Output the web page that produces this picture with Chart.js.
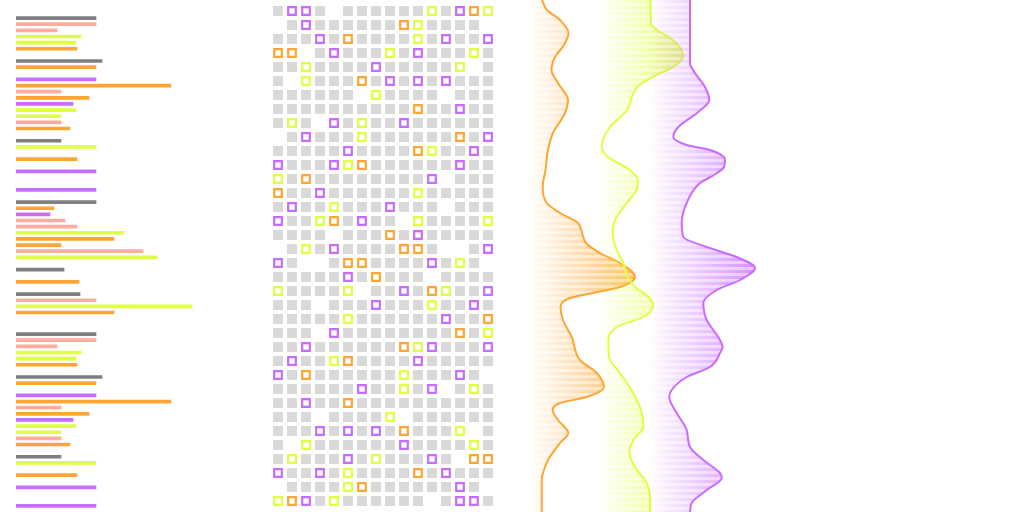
<!DOCTYPE html>
<html><head><meta charset="utf-8">
<script src="https://cdn.jsdelivr.net/npm/chart.js@4.4.1/dist/chart.umd.min.js"></script>
<style>
html,body{margin:0;padding:0;background:#fff;width:1024px;height:512px;overflow:hidden;position:relative}
canvas{position:absolute;display:block}
#barsA{left:16px;top:15px}
#barsB{left:16px;top:331px}
#grid{left:271px;top:4px}
#dens{left:520px;top:0px}
</style></head>
<body>
<canvas id="barsA" width="200" height="319"></canvas>
<canvas id="barsB" width="200" height="319"></canvas>
<canvas id="grid" width="224" height="504"></canvas>
<canvas id="dens" width="260" height="512"></canvas>
<script>
// ---------- data: left bars ----------
const barCategories = Array.from({length: 52}, (_, i) => 'r' + i);
const barValues = [80,80,41,65,60,61,null,86,80,null,80,155,45,73,57,60,45,45,54,null,
  45,80,null,61,null,80,null,null,80,null,80,38,34,49,61,108,98,45,127,141,
  null,48,null,63,null,64,80,176,98,null,null,null];
const barColorKeys = ['k','p','p','l','l','o','','k','o','','v','o','p','o','v','l','l','p','o','',
  'k','l','','o','','v','','','v','','k','o','v','p','p','l','o','o','p','l',
  '','k','','o','','k','p','l','o','','',''];

// ---------- data: grid (g gray, . empty, P purple, O orange, L lime) ----------
const gridRows = [
 'gPPg.ggggggLgPOL','.gPggggggOLgggg.','gggPgOggggLgPggP','OO.gPgggLgPgggLg',
 'ggLggggPgggggL.g','g.LgggOgPgPgPggg','gggggg.Lgggg.ggg','ggggggggggOggPgg',
 'gLg.PgLggPgggggg','.gPgggLggggggOgP','gggggPggggOLggPg','PgggPLOggggggPgg',
 'LgOggggggggP.ggg','OggPggggggLggggg','gPggLgggPggg.ggg','PggLOgPgg.LggggL',
 'gggg.gggOgPggggg','.gLgPggggOOg..gP','Pg..gOOggggPgLg.','gggggPgOggg.gggg',
 'LggggL.ggPgOLggP','ggg.gggPgggLggPg','gggggLggggggPggO','ggg.PggggggggOgL',
 'ggPggggggOLPgggP','gPggLOggggPggggg','PgOggggggLgggPg.','ggggggPggLgP.gLg',
 'ggPggOgggggggggg','ggg.ggggL.gggggg','gggPgPgPgOgggL.g','g.LggggggPggggLg',
 'gLgggPgLgggPg.OO','PggPgLggggOgPggg','.ggggLOggggggPg.','LOPgLgggggg.gPPg'
];

// ---------- data: density curves (y position, value) ----------
const orangeY = [0,10,20,33,45,57,70,83,100,113,133,150,170,187,203,213,223,233,243,253,263,277,287,293,298,307,320,337,360,373,387,397,403,410,420,433,443,460,473,480,512];
const orangeX = [22,27,40,48.5,44,35,31.5,38,48,45,33,28,25.5,22.7,26.7,40,58,62,66,80,100,115,100,73,50,40.5,43,51.7,60,76.7,84,66.7,40,32.7,38,48.3,40,28,23,21.7,21.7];
const limeY = [0,22,30,37,50,57,67,77,87,97,110,127,140,147,157,170,180,190,203,220,233,250,263,277,287,297,305,317,327,340,357,373,393,413,427,440,453,467,483,497,512];
const limeX = [130.7,130.7,137,149,161.5,163,153,133,117,112,107,90,82.7,81.7,88,110,118,116.7,106.7,95,92.7,96.7,103.3,108,115,128.3,133.3,123.3,96.7,88.3,89,100,113.3,121.7,123.3,113.3,109.3,115,126.7,130,130];
const purpleY = [0,63,73,87,100,113,127,137,145,150,160,167,175,183,203,223,237,247,257,268,280,290,303,320,330,340,347,353,367,377,390,397,413,430,447,460,473,478,490,503,512];
const purpleX = [170,170,175,185,189.3,177,158.3,153.3,166.7,190,205,204,194,180,166.7,161.7,163.3,186.7,216.7,235,220,196.7,183.3,186.7,193.3,200,202.7,200,190,166.7,151.7,149.3,156.7,166.7,170,183.3,200,201.7,186.7,171.7,170];
const curveBase = {orange: 8, lime: 77, purple: 128};

// ---------- colors ----------
const COL = {k:'#7f7f7f', p:'#ffaba0', l:'#dfff40', o:'#ffa533', v:'#c86cff'};
const GRAY = '#d9d9d9';

const noPlug = {legend:{display:false}, tooltip:{enabled:false}};
const LAYOUT = {padding:0, autoPadding:false};

// ---------- left bars (two stacked tiles) ----------
function makeBars(id){
  new Chart(document.getElementById(id), {
    type:'bar',
    data:{labels:barCategories, datasets:[{
      data:barValues,
      backgroundColor:barColorKeys.map(k => COL[k] || 'transparent'),
      barThickness:3, borderWidth:0
    }]},
    options:{indexAxis:'y', responsive:false, animation:false, events:[],
      layout:LAYOUT, plugins:noPlug,
      scales:{x:{display:false, min:0, max:200}, y:{display:false}}}
  });
}
makeBars('barsA'); makeBars('barsB');

// ---------- grid ----------
const gridSets = {g:[], P:[], O:[], L:[]};
gridRows.forEach((row, r) => {
  for (let c = 0; c < 16; c++) {
    const ch = row[c];
    if (gridSets[ch]) gridSets[ch].push({x:c, y:r});
  }
});
function outlineSet(pts, color){
  return {data:pts, pointStyle:'rect', pointRadius:5.4, pointBorderWidth:2.2,
    pointBorderColor:color, pointBackgroundColor:'rgba(255,255,255,0)', showLine:false, clip:false};
}
new Chart(document.getElementById('grid'), {
  type:'scatter',
  data:{datasets:[
    outlineSet(gridSets.P, COL.v), outlineSet(gridSets.O, COL.o), outlineSet(gridSets.L, COL.l),
    {data:gridSets.g, pointStyle:'rect', pointRadius:7.07, pointBorderWidth:0,
     pointBackgroundColor:GRAY, showLine:false, clip:false}
  ]},
  options:{responsive:false, animation:false, events:[], layout:LAYOUT, plugins:noPlug,
    scales:{x:{display:false, min:-0.5, max:15.5}, y:{display:false, min:-0.5, max:35.5, reverse:true}}}
});

// ---------- densities ----------
const patCache = {};
function stripeFill(chart, key, base, top, rgb, aHi, aLo){
  if (!chart.chartArea) return 'transparent';
  if (patCache[key]) return patCache[key];
  const xs = chart.scales.x;
  const x0 = xs.getPixelForValue(base), x1 = xs.getPixelForValue(top);
  const P = 6;
  const c = document.createElement('canvas');
  c.width = chart.width; c.height = P;
  const g = c.getContext('2d');
  for (let r = 0; r < P; r++) {
    const a = r < P/2 ? aHi : aLo;
    const gr = g.createLinearGradient(x0, 0, x1, 0);
    gr.addColorStop(0, `rgba(${rgb},0)`);
    gr.addColorStop(1, `rgba(${rgb},${a})`);
    g.fillStyle = gr;
    g.fillRect(0, r, c.width, 1);
  }
  patCache[key] = chart.ctx.createPattern(c, 'repeat');
  return patCache[key];
}
function curve(key, ys, xs, color, rgb, order){
  const base = curveBase[key];
  const top = Math.max(...xs);
  return {
    data: ys.map((y, i) => ({x: xs[i], y})),
    borderColor: color, borderWidth: 2, pointRadius: 0,
    cubicInterpolationMode: 'monotone',
    fill: {value: base}, order,
    backgroundColor: (ctx) => stripeFill(ctx.chart, key, base, top, rgb, 0.75, 0.4)
  };
}
new Chart(document.getElementById('dens'), {
  type:'line',
  data:{datasets:[
    curve('orange', orangeY, orangeX, '#ffa533', '255,165,51', 3),
    curve('lime', limeY, limeX, '#dfff40', '223,255,64', 2),
    curve('purple', purpleY, purpleX, '#c86cff', '200,108,255', 1)
  ]},
  options:{indexAxis:'y', responsive:false, animation:false, events:[], layout:LAYOUT,
    plugins:noPlug,
    scales:{x:{type:'linear', display:false, min:0, max:260},
            y:{type:'linear', display:false, min:0, max:512, reverse:true}}}
});
</script>
</body></html>
